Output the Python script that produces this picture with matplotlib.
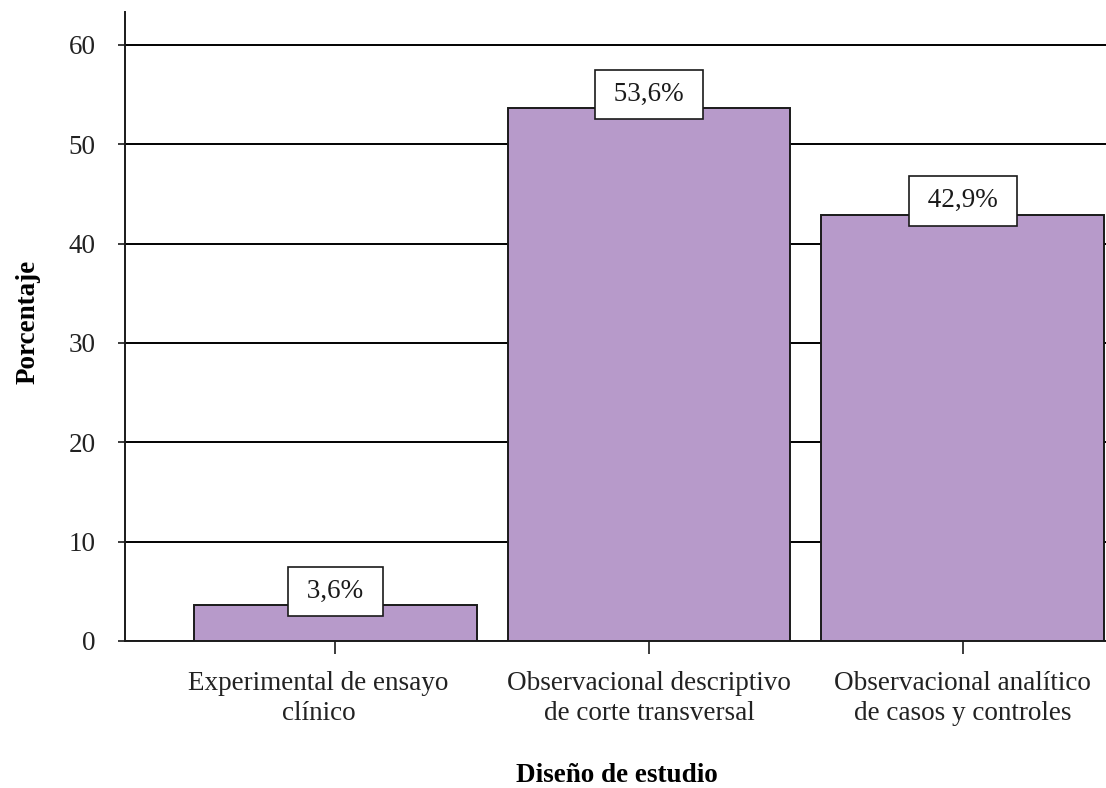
import matplotlib
matplotlib.use("Agg")
import matplotlib.pyplot as plt
import matplotlib.transforms as mtransforms
import numpy as np

categories = [
    "Experimental de ensayo\nclínico",
    "Observacional descriptivo\nde corte transversal",
    "Observacional analítico\nde casos y controles",
]
values = [3.6, 53.6, 42.9]
value_labels = ["3,6%", "53,6%", "42,9%"]
y_ticks = [0, 10, 20, 30, 40, 50, 60]

FONT = "Liberation Serif"
FS = 19.5
plt.rcParams["font.family"] = [FONT, "DejaVu Serif"]

fig = plt.figure(figsize=(11.06, 7.88), dpi=100)
ax = fig.add_axes([125 / 1106, 147 / 788, 1048 / 1106, 629 / 788])

x = np.arange(len(categories))
ax.set_axisbelow(True)
ax.yaxis.grid(True, color="black", linewidth=1.4)
ax.bar(x, values, width=0.9, color="#b79aca", edgecolor="#1a1a1a", linewidth=1.4, zorder=3)

for xi, v, lab in zip(x, values, value_labels):
    ax.annotate(f" {lab} ", xy=(xi, v), xytext=(0, 10), textcoords="offset points",
                ha="center", va="center", fontsize=FS, zorder=5, color="#1a1a1a",
                bbox=dict(boxstyle="square,pad=0.45", facecolor="white",
                          edgecolor="#1a1a1a", linewidth=1.2))

ax.set_xlim(-0.671, 2.671)
ax.set_ylim(0, 63.3)
ax.set_yticks(y_ticks)
ax.set_yticklabels([str(t) for t in y_ticks], fontsize=FS)
ax.set_xticks(x)
ax.set_xticklabels(categories, fontsize=FS, linespacing=1.25)

ax.tick_params(axis="y", length=5, width=1.2, pad=16, colors="#1a1a1a", labelcolor="#222222")
ax.tick_params(axis="x", length=9.5, width=1.2, pad=12, colors="#1a1a1a", labelcolor="#222222")

# the first category label sits slightly left of its tick
first = ax.get_xticklabels()[0]
first.set_transform(first.get_transform() +
                    mtransforms.ScaledTranslation(-17 / 100, 0, fig.dpi_scale_trans))

for side in ["top", "right"]:
    ax.spines[side].set_visible(False)
ax.spines["left"].set_linewidth(1.4)
ax.spines["bottom"].set_linewidth(1.4)
ax.spines["left"].set_color("#1a1a1a")
ax.spines["bottom"].set_color("#1a1a1a")

fig.text(28 / 1106, 1 - 322 / 788, "Porcentaje", rotation=90, ha="center", va="center",
         fontsize=FS, fontweight="bold")
fig.text(617 / 1106, 1 - 775 / 788, "Diseño de estudio", ha="center", va="center",
         fontsize=FS, fontweight="bold")

fig.savefig("out.png", dpi=100)
